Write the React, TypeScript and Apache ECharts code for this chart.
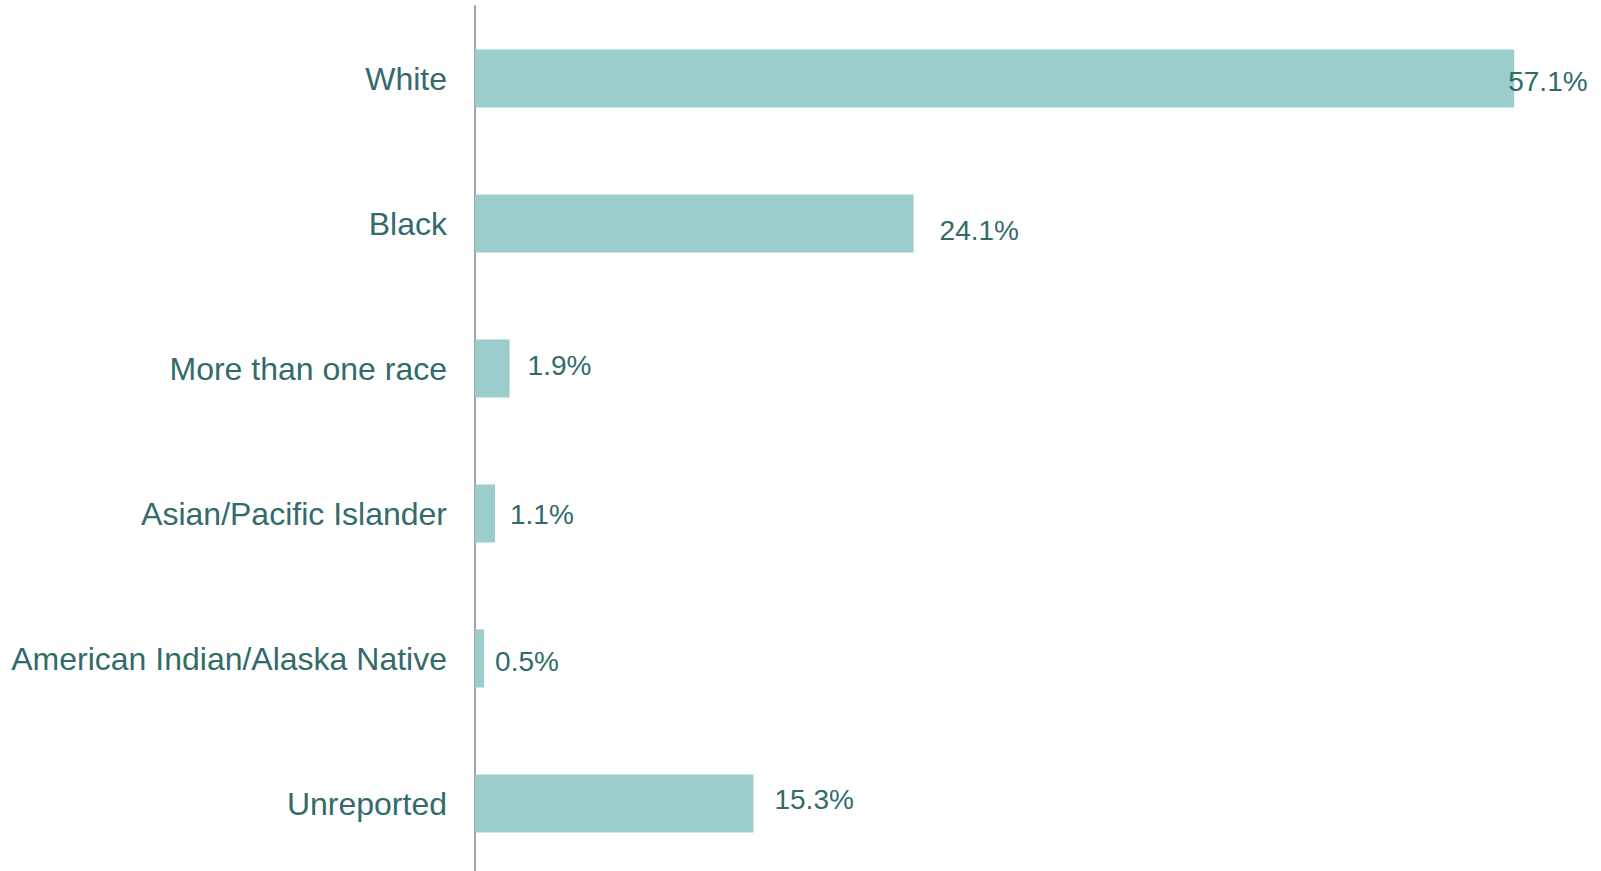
import React, { useEffect, useRef } from "react";
import * as echarts from "echarts";

const categories = [
  "White",
  "Black",
  "More than one race",
  "Asian/Pacific Islander",
  "American Indian/Alaska Native",
  "Unreported",
];
const values = [57.1, 24.1, 1.9, 1.1, 0.5, 15.3];
const valueLabels = ["57.1%", "24.1%", "1.9%", "1.1%", "0.5%", "15.3%"];
const labelOffsets: [number, number][] = [
  [-6, 3],
  [26, 7],
  [18, -3],
  [15, 1],
  [11, 3],
  [21, -4],
];

const TEXT = "#336b6b";

export default function App() {
  const ref = useRef<HTMLDivElement>(null);
  useEffect(() => {
    if (!ref.current) return;
    const chart = echarts.init(ref.current, undefined, { renderer: "svg" });
    chart.setOption({
      animation: false,
      grid: { left: 475, right: 34, top: 6, bottom: 0, containLabel: false },
      xAxis: {
        type: "value",
        min: 0,
        max: 60,
        show: false,
      },
      yAxis: {
        type: "category",
        inverse: true,
        data: categories,
        axisLine: { show: true, lineStyle: { color: "#a0a4a4", width: 2 } },
        axisTick: { show: false },
        axisLabel: {
          color: TEXT,
          fontSize: 32,
          fontFamily: "Liberation Sans, Arial, sans-serif",
          margin: 28,
        },
        splitLine: { show: false },
      },
      series: [
        {
          type: "bar",
          barWidth: "40%",
          itemStyle: { color: "#9bcdcd" },
          data: values.map((v, i) => ({
            value: v,
            label: {
              show: true,
              position: "right",
              distance: 0,
              offset: labelOffsets[i],
              formatter: valueLabels[i],
              color: TEXT,
              fontSize: 28,
              fontFamily: "Liberation Sans, Arial, sans-serif",
            },
          })),
        },
      ],
    });
    return () => chart.dispose();
  }, []);
  return (
    <div style={{ width: 1601, height: 871, position: "absolute", left: 0, top: 0, overflow: "hidden" }}>
      <div ref={ref} style={{ width: 1601, height: 876 }} />
    </div>
  );
}
